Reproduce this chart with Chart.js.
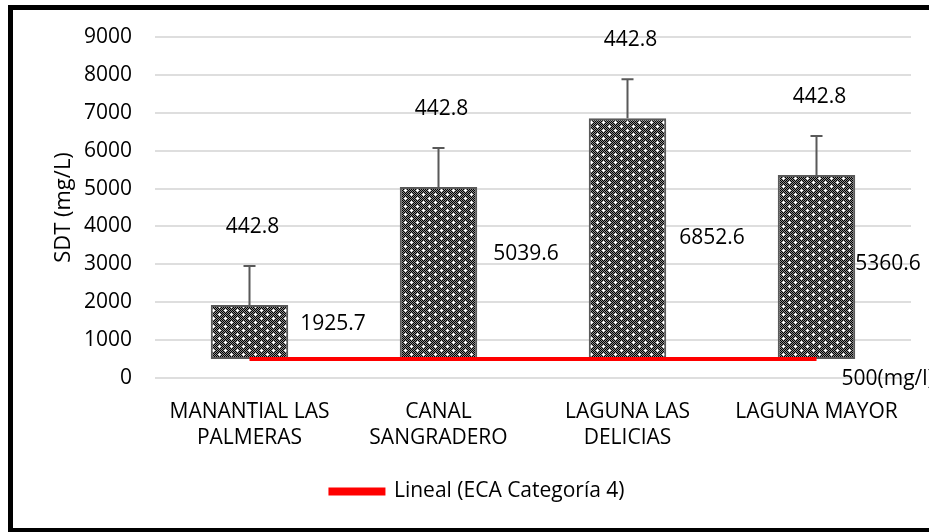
<!DOCTYPE html>
<html>
<head>
<meta charset="utf-8">
<script src="https://cdn.jsdelivr.net/npm/chart.js@4/dist/chart.umd.min.js"></script>
<style>
  html, body { margin:0; padding:0; background:#fff; overflow:hidden; }
  #wrap { position:relative; width:929px; height:532px; }
  #frame { position:absolute; left:8px; top:5px; width:1000px; height:518px; border:5px solid #000; pointer-events:none; }
</style>
</head>
<body>
<div id="wrap">
  <canvas id="chart" width="929" height="532"></canvas>
  <div id="frame"></div>
</div>
<script>
// SDT per sampling point, floating bars from the ECA limit up to the measured value
const categories = [["MANANTIAL LAS","PALMERAS"], ["CANAL","SANGRADERO"], ["LAGUNA LAS","DELICIAS"], "LAGUNA MAYOR"];
const sdtValues = [1925.7, 5039.6, 6852.6, 5360.6];
const errValues = [1029, 1032, 1034, 1026];
const errText = ["442.8", "442.8", "442.8", "442.8"];
const ecaLimit = [500, 500, 500, 500];
const yTicks = [0, 1000, 2000, 3000, 4000, 5000, 6000, 7000, 8000, 9000];
const lineLabel = "Lineal (ECA Categoría 4)";
const limitText = "500(mg/l)";

// where the value labels sit (data units) and how far right of the bar
const valueLabelAt = [1421, 3263, 3702, 3000];
const valueLabelGap = [12, 16, 13, 0];

const FONT = "'Open Sans', sans-serif";
Chart.defaults.font.family = FONT;
Chart.defaults.font.size = 20;
Chart.defaults.color = '#000';

const ctx = document.getElementById('chart').getContext('2d');

// dotted checker fill like the office pattern
function makePattern(){
  const c = document.createElement('canvas');
  c.width = 12; c.height = 8;
  const g = c.getContext('2d');
  g.fillStyle = '#8c8c8c'; g.fillRect(0,0,12,8);
  g.fillStyle = '#000';
  for(let y=0;y<8;y++) for(let x=0;x<12;x++) if((x+y)%2===0) g.fillRect(x,y,1,1);
  g.fillStyle = '#fff';
  [[3,2],[9,6]].forEach(([x,y])=>{ g.fillRect(x-1,y,3,1); g.fillRect(x,y-1,1,3); });
  return ctx.createPattern(c,'repeat');
}

// error bars + text labels
const extras = {
  id:'extras',
  afterDatasetsDraw(chart){
    const g = chart.ctx;
    const xs = chart.scales.x, ys = chart.scales.y;
    const meta = chart.getDatasetMeta(0);
    g.save();
    g.strokeStyle = '#595959';
    g.lineWidth = 2;
    sdtValues.forEach((v,i)=>{
      const bar = meta.data[i];
      const cx = bar.x;
      const y0 = ys.getPixelForValue(v);
      const y1 = ys.getPixelForValue(v + errValues[i]);
      g.beginPath();
      g.moveTo(cx, y0); g.lineTo(cx, y1);
      g.moveTo(cx-6, y1); g.lineTo(cx+6, y1);
      g.stroke();
      g.fillStyle = '#000';
      g.font = '21px ' + FONT;
      g.textAlign = 'center'; g.textBaseline = 'middle';
      g.fillText(errText[i], cx + 3, y1 - 39);
      g.textAlign = 'left';
      g.fillText(String(v), bar.x + bar.width/2 + valueLabelGap[i], ys.getPixelForValue(valueLabelAt[i]));
    });
    const last = categories.length - 1;
    g.textAlign = 'left';
    g.fillText(limitText, xs.getPixelForValue(last) + 25, ys.getPixelForValue(-30));
    g.restore();
  }
};

new Chart(ctx, {
  data: {
    labels: categories,
    datasets: [
      {
        type:'bar',
        label:'SDT',
        data: sdtValues.map((v,i)=>[ecaLimit[i], v]),
        backgroundColor: makePattern(),
        borderColor:'#595959',
        borderWidth:2,
        borderSkipped:false,
        categoryPercentage:1,
        barPercentage:0.41,
        order:2
      },
      {
        type:'line',
        label: lineLabel,
        data: ecaLimit,
        borderColor:'#ff0000',
        backgroundColor:'#ff0000',
        borderWidth:4,
        pointRadius:0,
        order:1
      }
    ]
  },
  options: {
    responsive:false,
    animation:false,
    layout:{ padding:{ left:44, right:18, top:37, bottom:20 } },
    plugins:{
      legend:{
        position:'bottom',
        labels:{
          filter: item => item.datasetIndex === 1,
          boxWidth:53,
          boxHeight:4,
          font:{ size:21 },
          color:'#000'
        }
      },
      tooltip:{ enabled:false }
    },
    scales:{
      x:{
        grid:{ display:false, drawTicks:false },
        border:{ display:false },
        ticks:{ padding:21, maxRotation:0, autoSkip:false, font:{ size:21, lineHeight:1.25 } },
        afterFit(s){ s.height = 93; }
      },
      y:{
        min:0, max:9000,
        afterBuildTicks(s){ s.ticks = yTicks.map(v=>({value:v})); },
        grid:{ color:'#dedede', lineWidth:2, drawTicks:false },
        border:{ display:false },
        ticks:{ padding:23, font:{ size:21 }, callback: v => String(v) },
        title:{ display:true, text:'SDT (mg/L)', font:{ size:22 }, padding:{ top:7, bottom:0 } },
        afterFit(s){ s.width = 111; }
      }
    }
  },
  plugins:[extras]
});
</script>
</body>
</html>
